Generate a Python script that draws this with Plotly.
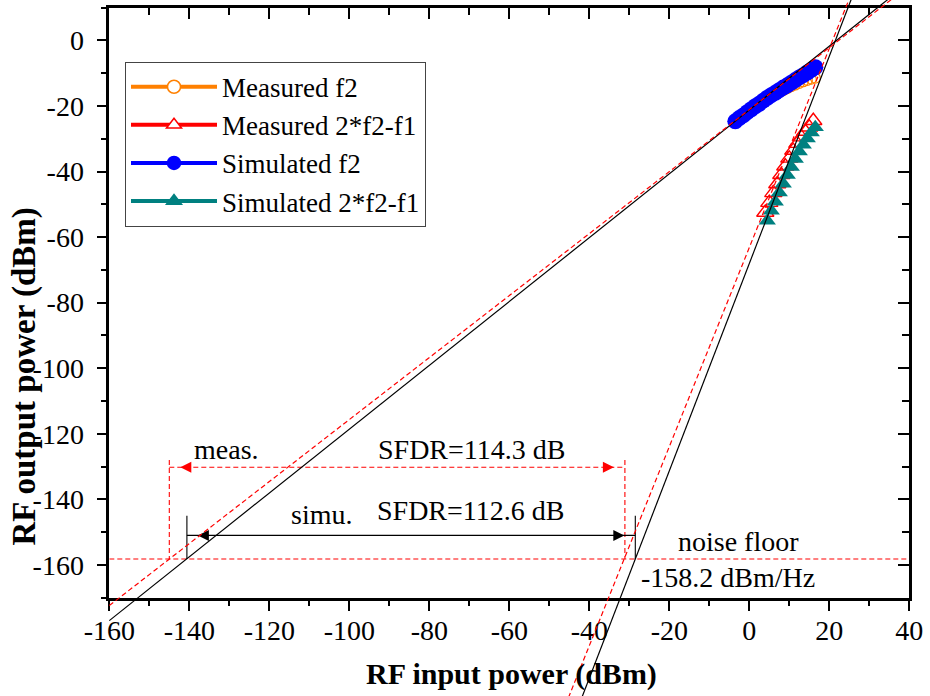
import plotly.graph_objects as go

# ---------------- figure geometry (pixels) ----------------
W, H = 930, 696
PX_L, PX_R, PX_T, PX_B = 109.3, 909.3, 7.6, 597.7
X_RANGE = [-160, 40]
Y_RANGE = [-170, 10]

# ---------------- data ----------------
sim_f2_x = [-3.5, -2.5, -1.5, -0.5, 0.5, 1.5, 2.5, 3.5, 4.5, 5.5, 6.5, 7.5, 8.5,
            9.5, 10.5, 11.5, 12.5, 13.5, 14.5, 15.5, 16.5]
sim_f2_y = [-24.7, -23.7, -22.9, -21.9, -21.0, -20.1, -19.3, -18.4, -17.5, -16.7,
            -16.0, -15.2, -14.4, -13.7, -12.9, -12.1, -11.3, -10.6, -9.8, -9.0, -8.2]

meas_f2_x = [-3.5, -2.5, -1.5, -0.5, 0.5, 1.5, 2.5, 3.5, 4.5, 5.5, 6.5, 7.5, 8.5,
             9.5, 10.5, 11.5, 12.5, 13.5, 14.5, 15.5, 16.5]
meas_f2_y = [-24.8, -23.9, -23.0, -22.1, -21.2, -20.3, -19.5, -18.7, -17.9, -17.2,
             -16.6, -15.9, -15.3, -14.7, -14.1, -13.6, -13.1, -12.6, -12.2, -11.8, -11.5]

meas_imd_x = [4, 5, 6, 7, 8, 9, 10, 11, 12, 13, 14, 15, 16]
meas_imd_y = [-52.5, -49.5, -46.5, -43.8, -41.0, -38.4, -36.0, -33.6, -31.5,
              -29.5, -27.8, -26.5, -24.5]

sim_imd_x = [4.5, 5.5, 6.5, 7.5, 8.5, 9.5, 10.5, 11.5, 12.5, 13.5, 14.5, 15.5, 16.5]
sim_imd_y = [-55.0, -52.0, -49.2, -46.4, -43.7, -41.1, -38.6, -36.2, -33.9,
             -31.8, -29.9, -28.1, -26.5]

# fitted extrapolation lines (end points)
fit_sim_fund_x = [-160, 40]
fit_sim_fund_y = [-177.0, 17.7]
fit_meas_fund_x = [-160, 40]
fit_meas_fund_y = [-172.4, 16.7]
fit_sim_imd_x = [-43.3, 27.85]
fit_sim_imd_y = [-205, 20]
fit_meas_imd_x = [-46.7, 27.4]
fit_meas_imd_y = [-205, 20]

noise_floor = -158.2
noise_x = [-160, 40]

sfdr_meas_x = [-145.0, -31.1]
sfdr_meas_y = -130.2
sfdr_meas_top = -128.0
sfdr_simu_x = [-140.6, -28.5]
sfdr_simu_y = -151.0
sfdr_simu_top = -145.0

x_tick_vals = [-160, -140, -120, -100, -80, -60, -40, -20, 0, 20, 40]
x_tick_text = ["-160", "-140", "-120", "-100", "-80", "-60", "-40", "-20", "0", "20", "40"]
y_tick_vals = [0, -20, -40, -60, -80, -100, -120, -140, -160]
y_tick_text = ["0", "-20", "-40", "-60", "-80", "-100", "-120", "-140", "-160"]

# ---------------- styles ----------------
FONT = "Liberation Serif"
C_ORANGE = "#FF8000"
C_RED = "#FF0000"
C_BLUE = "#0000FF"
C_TEAL = "#008080"
DASH = "5px,3px"
ARROW_SIZE = 11

ux = (X_RANGE[1] - X_RANGE[0]) / (PX_R - PX_L)
uy = (Y_RANGE[1] - Y_RANGE[0]) / (PX_B - PX_T)
dom_x = [PX_L / W, PX_R / W]
dom_y = [1 - PX_B / H, 1 - PX_T / H]
x2_range = [X_RANGE[0] - PX_L * ux, X_RANGE[1] + (W - PX_R) * ux]
y2_range = [Y_RANGE[0] - (H - PX_B) * uy, Y_RANGE[1] + PX_T * uy]
arrow_off = ARROW_SIZE * ux  # tip offset of arrow symbols in data units

fig = go.Figure()

# data traces (no legend)
fig.add_trace(go.Scatter(x=meas_f2_x, y=meas_f2_y, mode="markers", showlegend=False,
                         marker=dict(symbol="circle-open", size=10, color=C_ORANGE,
                                     line=dict(width=1.2, color=C_ORANGE))))
fig.add_trace(go.Scatter(x=meas_imd_x, y=meas_imd_y, mode="markers", showlegend=False,
                         marker=dict(symbol="triangle-up-open", size=15, color=C_RED,
                                     line=dict(width=1.4, color=C_RED))))
fig.add_trace(go.Scatter(x=sim_f2_x, y=sim_f2_y, mode="markers", showlegend=False,
                         marker=dict(symbol="circle", size=16, color=C_BLUE)))
fig.add_trace(go.Scatter(x=sim_imd_x, y=sim_imd_y, mode="markers", showlegend=False,
                         marker=dict(symbol="triangle-up", size=15, color=C_TEAL)))

# legend entries
leg = [("Measured f2", C_ORANGE, "circle", "white"),
       ("Measured 2*f2-f1", C_RED, "triangle-up", "white"),
       ("Simulated f2", C_BLUE, "circle", C_BLUE),
       ("Simulated 2*f2-f1", C_TEAL, "triangle-up", C_TEAL)]
for name, col, sym, fill in leg:
    fig.add_trace(go.Scatter(x=[None], y=[None], mode="lines+markers", name=name,
                             line=dict(color=col, width=4),
                             marker=dict(symbol=sym, size=13, color=fill,
                                         line=dict(color=col, width=1.5))))

# noise floor
fig.add_trace(go.Scatter(x=noise_x, y=[noise_floor, noise_floor], mode="lines", showlegend=False,
                         line=dict(color=C_RED, width=1.1, dash=DASH)))

# SFDR measured (red dashed)
for xv in sfdr_meas_x:
    fig.add_trace(go.Scatter(x=[xv, xv], y=[sfdr_meas_top, noise_floor], mode="lines", showlegend=False,
                             line=dict(color=C_RED, width=1.1, dash=DASH)))
fig.add_trace(go.Scatter(x=sfdr_meas_x, y=[sfdr_meas_y, sfdr_meas_y], mode="lines", showlegend=False,
                         line=dict(color=C_RED, width=1.1, dash=DASH)))
fig.add_trace(go.Scatter(x=[sfdr_meas_x[0] + arrow_off, sfdr_meas_x[1] - arrow_off],
                         y=[sfdr_meas_y, sfdr_meas_y], mode="markers", showlegend=False,
                         marker=dict(symbol=["arrow-left", "arrow-right"], size=ARROW_SIZE,
                                     color=C_RED, line=dict(width=0))))

# SFDR simulated (black solid)
for xv in sfdr_simu_x:
    fig.add_trace(go.Scatter(x=[xv, xv], y=[sfdr_simu_top, noise_floor], mode="lines", showlegend=False,
                             line=dict(color="black", width=1.1)))
fig.add_trace(go.Scatter(x=sfdr_simu_x, y=[sfdr_simu_y, sfdr_simu_y], mode="lines", showlegend=False,
                         line=dict(color="black", width=1.1)))
fig.add_trace(go.Scatter(x=[sfdr_simu_x[0] + arrow_off, sfdr_simu_x[1] - arrow_off],
                         y=[sfdr_simu_y, sfdr_simu_y], mode="markers", showlegend=False,
                         marker=dict(symbol=["arrow-left", "arrow-right"], size=ARROW_SIZE,
                                     color="black", line=dict(width=0))))

# extrapolation lines on full-page overlay axes (not clipped to the frame)
for fx, fy, col, dash in [(fit_sim_fund_x, fit_sim_fund_y, "black", "solid"),
                          (fit_sim_imd_x, fit_sim_imd_y, "black", "solid"),
                          (fit_meas_fund_x, fit_meas_fund_y, C_RED, DASH),
                          (fit_meas_imd_x, fit_meas_imd_y, C_RED, DASH)]:
    fig.add_trace(go.Scatter(x=fx, y=fy, xaxis="x2", yaxis="y2", mode="lines", showlegend=False,
                             line=dict(color=col, width=1.2, dash=dash)))

# dummy traces so that the mirrored frame axes exist
fig.add_trace(go.Scatter(x=[None], y=[None], xaxis="x3", yaxis="y", showlegend=False))
fig.add_trace(go.Scatter(x=[None], y=[None], xaxis="x", yaxis="y3", showlegend=False))

tickfont = dict(family=FONT, size=28, color="black")
common = dict(showgrid=False, zeroline=False, showline=True, linewidth=2.5, linecolor="black",
              tickwidth=2, tickcolor="black", automargin=False)

fig.update_layout(
    width=W, height=H,
    margin=dict(l=0, r=0, t=0, b=0, autoexpand=False),
    paper_bgcolor="white", plot_bgcolor="rgba(0,0,0,0)",
    font=dict(family=FONT, color="black"),
    xaxis=dict(domain=dom_x, range=X_RANGE, anchor="y", tickvals=x_tick_vals, ticktext=x_tick_text,
               ticks="outside", ticklen=11, tickfont=tickfont, ticklabelstandoff=-5,
               minor=dict(dtick=10, ticks="outside", ticklen=6, tickwidth=2, tickcolor="black"),
               **common),
    yaxis=dict(domain=dom_y, range=Y_RANGE, anchor="x", tickvals=y_tick_vals, ticktext=y_tick_text,
               ticks="outside", ticklen=10, tickfont=tickfont, ticklabelstandoff=7,
               minor=dict(dtick=10, ticks="outside", ticklen=6, tickwidth=2, tickcolor="black"),
               **common),
    xaxis3=dict(overlaying="x", side="top", anchor="y", range=X_RANGE, tickvals=x_tick_vals,
                ticks="inside", ticklen=12, showticklabels=False,
                minor=dict(dtick=10, ticks="inside", ticklen=8, tickwidth=2, tickcolor="black"),
                **common),
    yaxis3=dict(overlaying="y", side="right", anchor="x", range=Y_RANGE, tickvals=y_tick_vals,
                ticks="inside", ticklen=12, showticklabels=False,
                minor=dict(dtick=10, ticks="inside", ticklen=8, tickwidth=2, tickcolor="black"),
                **common),
    xaxis2=dict(domain=[0, 1], range=x2_range, anchor="y2", visible=False, fixedrange=True),
    yaxis2=dict(domain=[0, 1], range=y2_range, anchor="x2", visible=False, fixedrange=True),
    legend=dict(x=125 / W, y=1 - 61.7 / H, xanchor="left", yanchor="top",
                bgcolor="white", bordercolor="#444", borderwidth=1,
                font=dict(family=FONT, size=27, color="black"), itemwidth=86,
                tracegroupgap=0),
)

txt = dict(family=FONT, size=28, color="black")
ann = [
    dict(x=-130.6, y=-124.8, text="meas."),
    dict(x=-69.5, y=-124.8, text="SFDR=114.3 dB"),
    dict(x=-106.9, y=-144.5, text="simu."),
    dict(x=-69.6, y=-143.3, text="SFDR=112.6 dB"),
    dict(x=-2.6, y=-153.0, text="noise floor"),
    dict(x=-5.3, y=-163.8, text="-158.2 dBm/Hz"),
]
for a in ann:
    fig.add_annotation(xref="x", yref="y", showarrow=False, font=txt, **a)

fig.add_annotation(xref="paper", yref="paper", x=511.5 / W, y=1 - 674 / H, showarrow=False,
                   xanchor="center", yanchor="middle",
                   text="<b>RF input power (dBm)</b>", font=dict(family=FONT, size=30, color="black"))
fig.add_annotation(xref="paper", yref="paper", x=24 / W, y=1 - 376.5 / H, showarrow=False,
                   xanchor="center", yanchor="middle",
                   textangle=-90, text="<b>RF output power (dBm)</b>",
                   font=dict(family=FONT, size=33, color="black"))

fig.write_html("out.html")
